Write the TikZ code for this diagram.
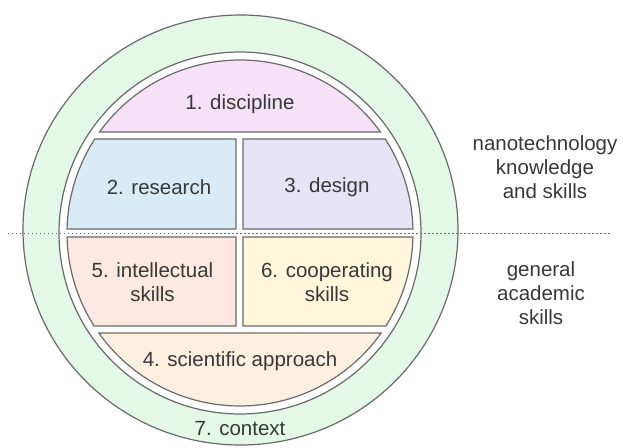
\documentclass[tikz,border=0pt]{standalone}
\usepackage{fontspec}
\setmainfont{Liberation Sans}
\definecolor{ringgreen}{HTML}{E3F8E6}
\definecolor{edgegray}{HTML}{6A6A6A}
\definecolor{txtgray}{HTML}{383838}
\definecolor{cpink}{HTML}{F6E1F6}
\definecolor{cblue}{HTML}{D8EBF7}
\definecolor{clav}{HTML}{E8E4F8}
\definecolor{cpeach}{HTML}{FDE9E2}
\definecolor{cyellow}{HTML}{FFF6DB}
\definecolor{corange}{HTML}{FDF0E1}
\tikzset{
  part/.style={draw=edgegray, line width=1.2pt},
  lbl/.style={text=txtgray, font=\fontsize{20.5}{24}\selectfont, align=center, inner sep=0pt},
}
\begin{document}
\begin{tikzpicture}[x=1pt,y=1pt]
\useasboundingbox (-240,233) rectangle (383,-214);
% outer ring
\draw[part, fill=ringgreen] (0.5,3) ellipse [x radius=217.5pt, y radius=215pt];
% white gap disk
\draw[part, fill=white] (0,0) circle [radius=181pt];
% dotted divider
\coordinate (dl) at (-232,0);
\coordinate (dr) at (372,0);
\draw[edgegray, line width=1pt, dash pattern=on 1.5pt off 2.5pt] (dl) -- (dr);
% parts
\draw[part, fill=cpink] ({asin(101/173)}:173pt) arc [start angle={asin(101/173)}, end angle={180-asin(101/173)}, radius=173pt] -- cycle;
\draw[part, fill=corange] ({180+asin(100/173)}:173pt) arc [start angle={180+asin(100/173)}, end angle={360-asin(100/173)}, radius=173pt] -- cycle;
\draw[part, fill=cblue] (-4,94) -- (-4,4) -- ({180-asin(4/173)}:173pt) arc [start angle={180-asin(4/173)}, end angle={180-asin(94/173)}, radius=173pt] -- cycle;
\draw[part, fill=clav] (3,94) -- (3,4) -- ({asin(4/173)}:173pt) arc [start angle={asin(4/173)}, end angle={asin(94/173)}, radius=173pt] -- cycle;
\draw[part, fill=cpeach] (-4,-4) -- (-4,-93) -- ({180+asin(93/173)}:173pt) arc [start angle={180+asin(93/173)}, end angle={180+asin(4/173)}, radius=173pt] -- cycle;
\draw[part, fill=cyellow] (3,-4) -- (3,-93) -- ({-asin(93/173)}:173pt) arc [start angle={-asin(93/173)}, end angle={-asin(4/173)}, radius=173pt] -- cycle;
% labels
\node[lbl] (t1) at (0,129) {1. discipline};
\node[lbl] (t2) at (-81,46) {2. research};
\node[lbl] (t3) at (87,46) {3. design};
\node[lbl] (t5) at (-87.5,-49) {5. intellectual\\skills};
\node[lbl] (t6) at (87,-49) {6. cooperating\\skills};
\node[lbl] (t4) at (0,-128) {4. scientific approach};
\node[lbl] (t7) at (0,-196) {7. context};
\node[lbl] (tn) at (305,66) {nanotechnology\\knowledge\\and skills};
\node[lbl] (tg) at (301,-60) {general\\academic\\skills};
\end{tikzpicture}
\end{document}
